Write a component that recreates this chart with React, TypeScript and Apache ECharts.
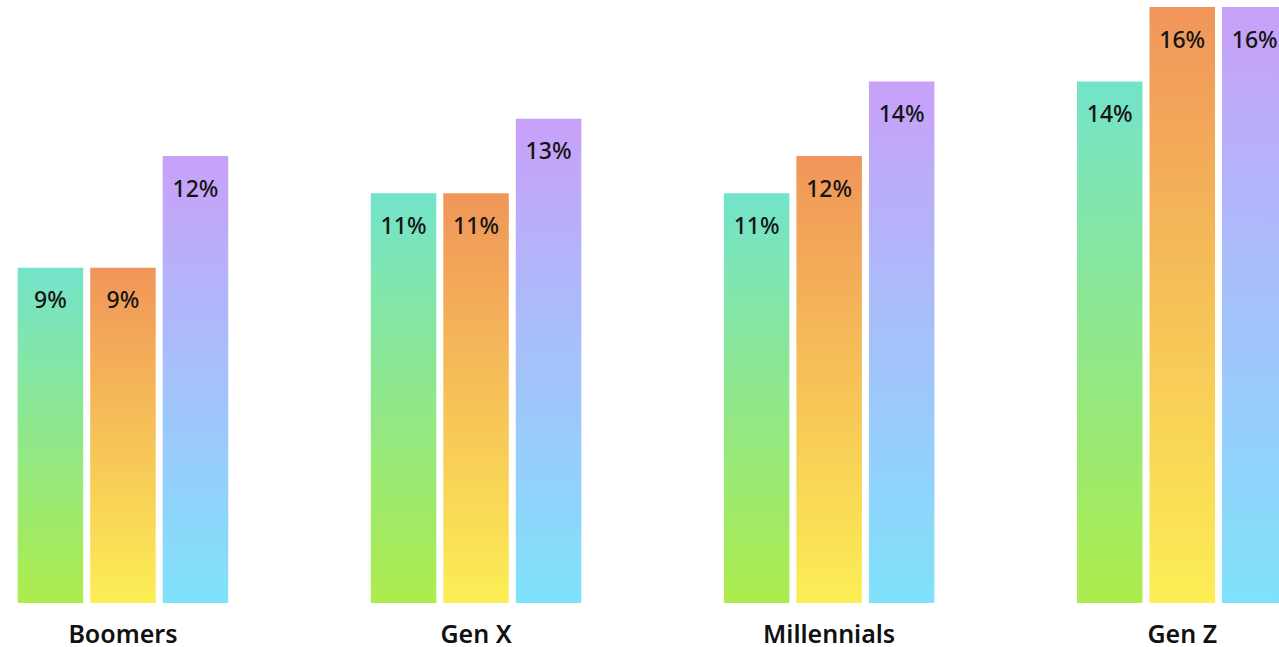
import React, { useEffect, useRef } from "react";
import * as echarts from "echarts";

const categories = ["Boomers", "Gen X", "Millennials", "Gen Z"];
const seriesA = [9, 11, 11, 14];
const seriesB = [9, 11, 12, 16];
const seriesC = [12, 13, 14, 16];

const gradients = [
  ["#73E3CA", "#ADEC4C"],
  ["#F0955A", "#FCEE55"],
  ["#C9A0F9", "#7FE2FB"],
];

export default function App() {
  const ref = useRef<HTMLDivElement>(null);
  useEffect(() => {
    if (!ref.current) return;
    const chart = echarts.init(ref.current, null, { renderer: "svg" });
    const font = "'Noto Sans', 'Open Sans', sans-serif";
    const mk = (name: string, data: number[], g: string[]) => ({
      name,
      type: "bar",
      data,
      barWidth: 65.5,
      barGap: "10.7%",
      itemStyle: {
        color: new echarts.graphic.LinearGradient(0, 0, 0, 1, [
          { offset: 0, color: g[0] },
          { offset: 1, color: g[1] },
        ]),
      },
      label: {
        show: true,
        position: "insideTop",
        distance: 20,
        formatter: "{c}%",
        fontFamily: font,
        fontSize: 23,
        lineHeight: 23,
        fontWeight: 500,
        color: "#141414",
      },
    });
    chart.setOption({
      animation: false,
      backgroundColor: "#ffffff",
      grid: {
        left: -53.6,
        width: 1412.4,
        top: 7,
        bottom: 44,
        containLabel: false,
        outerBoundsMode: "none",
      },
      xAxis: {
        type: "category",
        data: categories,
        axisLine: { show: false },
        axisTick: { show: false },
        splitLine: { show: false },
        axisLabel: {
          margin: 17,
          fontFamily: font,
          fontSize: 25,
          lineHeight: 25,
          fontWeight: 600,
          color: "#111111",
          interval: 0,
        },
      },
      yAxis: {
        type: "value",
        min: 0,
        max: 16,
        show: false,
        splitLine: { show: false },
      },
      series: [
        mk("A", seriesA, gradients[0]),
        mk("B", seriesB, gradients[1]),
        mk("C", seriesC, gradients[2]),
      ],
    });
    return () => chart.dispose();
  }, []);
  return (
    <div
      ref={ref}
      style={{ position: "fixed", left: 0, top: 0, width: 1279, height: 647 }}
    />
  );
}
